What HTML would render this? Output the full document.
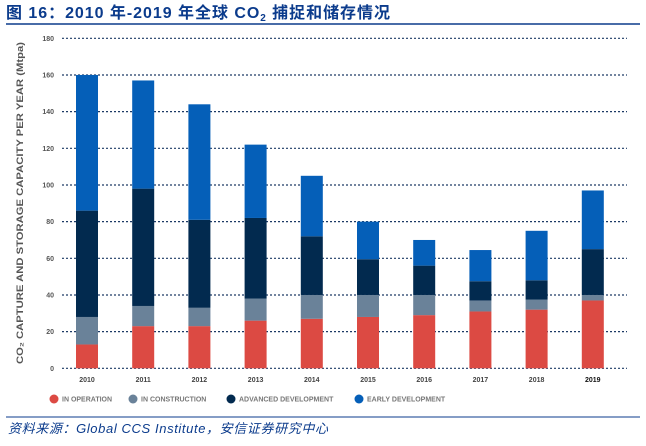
<!DOCTYPE html>
<html><head><meta charset="utf-8"><style>
body{margin:0;background:#fff;width:646px;height:441px;overflow:hidden;font-family:"Liberation Sans","Noto Sans CJK SC",sans-serif}
</style></head><body>
<svg width="646" height="441" xmlns="http://www.w3.org/2000/svg">
<text x="6" y="18" font-size="16" font-weight="bold" fill="#0b3b8c" font-family="Liberation Sans, Noto Sans CJK SC, sans-serif" textLength="384" lengthAdjust="spacing">图 16：2010 年-2019 年全球 CO<tspan font-size="10" dy="3">2</tspan><tspan dy="-3"> 捕捉和储存情况</tspan></text>
<line x1="6" y1="24" x2="640" y2="24" stroke="#0b3b8c" stroke-width="1.5"/>
<g id="grid"></g>
<g id="bars"></g>
<g id="xlabels"></g>
<text transform="translate(23,203) rotate(-90)" text-anchor="middle" font-size="9" font-weight="bold" fill="#555" textLength="322" lengthAdjust="spacingAndGlyphs">CO₂ CAPTURE AND STORAGE CAPACITY PER YEAR (Mtpa)</text>
<g id="legend"></g>
<line x1="6" y1="417" x2="640" y2="417" stroke="#0b3b8c" stroke-width="1"/>
<text x="8" y="433" font-size="13" font-style="italic" fill="#0b3b8c" font-family="Liberation Sans, Noto Sans CJK SC, sans-serif" textLength="320" lengthAdjust="spacing">资料来源：Global CCS Institute，安信证券研究中心</text>
</svg>
<script>
const years=["2010","2011","2012","2013","2014","2015","2016","2017","2018","2019"];
const inOperation=[13,23,23,26,27,28,29,31,32,37];
const inConstruction=[15,11,10,12,13,12,11,6,5.5,3];
const advancedDev=[58,64,48,44,32,19.5,16,10.5,10.5,25];
const earlyDev=[74,59,63,40,33,20.5,14,17,27,32];
const yTicks=[0,20,40,60,80,100,120,140,160,180];
const seriesNames=["IN OPERATION","IN CONSTRUCTION","ADVANCED DEVELOPMENT","EARLY DEVELOPMENT"];
const colors=["#dc4a43","#6a8299","#022a4f","#055fb8"];
const NS="http://www.w3.org/2000/svg";
const y0=368.3,y1=38.3,yMax=180;
const yS=v=>y0-(v/yMax)*(y0-y1);
const xS=i=>76+i*56.2;
const bw=22;
function mk(t,a,p){const e=document.createElementNS(NS,t);for(const k in a)e.setAttribute(k,a[k]);p.appendChild(e);return e;}
const grid=document.getElementById('grid');
yTicks.forEach(v=>{
  const l=mk('line',{x1:62,x2:627,y1:yS(v),y2:yS(v),stroke:'#1d3a66','stroke-width':1.2,'stroke-dasharray':'2,2'},grid);
  
  
  const t=mk('text',{x:54,y:yS(v)+2.5,'text-anchor':'end','font-size':7,'font-weight':'bold',fill:'#555'},grid);
  t.textContent=v;
  
  
});
const bars=document.getElementById('bars');
const series=[inOperation,inConstruction,advancedDev,earlyDev];
years.forEach((yr,i)=>{
  let c=0;
  series.forEach((s,k)=>{
    const r=mk('rect',{x:xS(i),y:yS(c+s[i]),width:bw,height:yS(c)-yS(c+s[i]),fill:colors[k]},bars);
    
    
    c+=s[i];
  });
  const t=mk('text',{x:xS(i)+bw/2,y:382,'text-anchor':'middle','font-size':7,'font-weight':'bold',fill:i==9?'#111':'#444'},document.getElementById('xlabels'));
  t.textContent=yr;
  
  
});
const leg=document.getElementById('legend');
const lx=[54,133,231,359];
seriesNames.forEach((n,k)=>{
  const c=mk('circle',{cx:lx[k],cy:399,r:4.5,fill:colors[k]},leg);
  
  
  const t=mk('text',{x:lx[k]+8,y:401.5,'font-size':7,'font-weight':'bold',fill:'#777'},leg);
  t.textContent=n;
  
  
});
</script>
</body></html>
